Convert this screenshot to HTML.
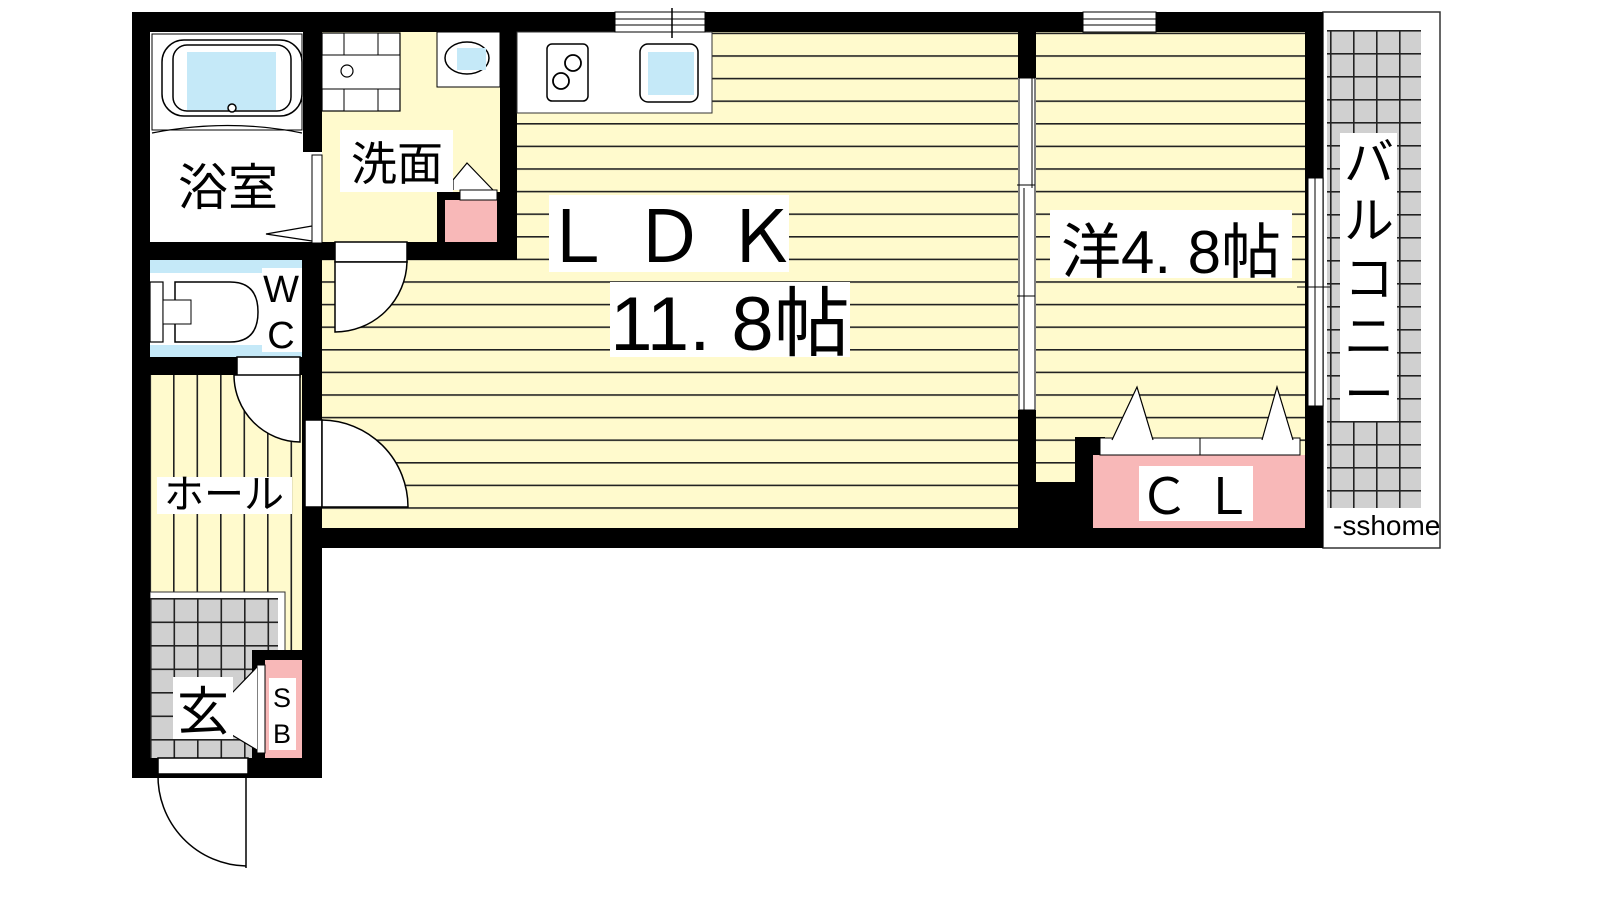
<!DOCTYPE html>
<html><head><meta charset="utf-8"><style>
html,body{margin:0;padding:0;background:#fff;}
svg{display:block;}
text{font-family:"Liberation Sans","Noto Sans CJK JP",sans-serif;fill:#000;}
</style></head><body>
<svg width="1600" height="900" viewBox="0 0 1600 900" xmlns="http://www.w3.org/2000/svg">
<defs>
<pattern id="hl" x="0" y="10" width="20" height="22.6" patternUnits="userSpaceOnUse">
<rect width="20" height="22.6" fill="#fffacd"/><rect y="0" width="20" height="1.6" fill="#222"/>
</pattern>
<pattern id="vl" x="173" y="0" width="23.5" height="20" patternUnits="userSpaceOnUse">
<rect width="23.5" height="20" fill="#fffacd"/><rect x="0" width="1.6" height="20" fill="#222"/>
</pattern>
<pattern id="tile" x="150" y="598" width="23.5" height="23.5" patternUnits="userSpaceOnUse">
<rect width="23.5" height="23.5" fill="#d0d0d0"/><rect width="1.6" height="23.5" fill="#222"/><rect width="23.5" height="1.6" fill="#222"/>
</pattern>
<pattern id="tile2" x="1330" y="30" width="23" height="23" patternUnits="userSpaceOnUse">
<rect width="23" height="23" fill="#d0d0d0"/><rect width="1.6" height="23" fill="#222"/><rect width="23" height="1.6" fill="#222"/>
</pattern>
</defs>

<!-- balcony -->
<rect x="1323" y="12" width="117" height="536" fill="#fff" stroke="#333" stroke-width="1.5"/>
<rect x="1327" y="30" width="94" height="478" fill="url(#tile2)"/>

<!-- floors -->
<rect x="322" y="32" width="696" height="496" fill="url(#hl)"/>
<rect x="1036" y="32" width="269" height="450" fill="url(#hl)"/>
<rect x="322" y="32" width="178" height="210" fill="#fffacd"/>
<rect x="150" y="375" width="152" height="383" fill="url(#vl)"/>
<rect x="150" y="32" width="153" height="210" fill="#fff"/>
<rect x="150" y="260" width="153" height="97" fill="#c5e9f8"/>
<rect x="150" y="273" width="112" height="72" fill="#fff"/>
<rect x="150" y="592" width="135" height="166" fill="#fff" stroke="#333" stroke-width="1"/>
<rect x="150" y="598" width="128" height="160" fill="url(#tile)"/>

<!-- walls -->
<g fill="#000">
<rect x="132" y="12" width="1191" height="20"/>
<rect x="132" y="12" width="18" height="766"/>
<rect x="305" y="528" width="1018" height="20"/>
<rect x="1305" y="12" width="18" height="536"/>
<rect x="302" y="250" width="20" height="528"/>
<rect x="132" y="758" width="190" height="20"/>
<rect x="303" y="12" width="19" height="140"/>
<rect x="132" y="242" width="385" height="18"/>
<rect x="500" y="12" width="17" height="248"/>
<rect x="132" y="357" width="190" height="18"/>
<rect x="1018" y="12" width="18" height="66"/>
<rect x="1018" y="410" width="18" height="130"/>
<rect x="1018" y="482" width="75" height="60"/>
<rect x="1075" y="437" width="30" height="50"/>
<rect x="437" y="192" width="63" height="60"/>
<rect x="252" y="650" width="50" height="110"/>
</g>

<!-- pink storage -->
<rect x="445" y="200" width="52" height="42" fill="#f8b8b8"/>
<rect x="1093" y="455" width="212" height="73" fill="#f8b8b8"/>
<rect x="265" y="660" width="37" height="98" fill="#f8b8b8"/>

<!-- kitchen -->
<rect x="517" y="32" width="195" height="81" fill="#fff" stroke="#333" stroke-width="1"/>
<rect x="547" y="44" width="41" height="57" rx="5" fill="#fff" stroke="#000" stroke-width="1.5"/>
<circle cx="573" cy="63" r="8" fill="none" stroke="#000" stroke-width="1.8"/>
<circle cx="561" cy="81" r="8" fill="none" stroke="#000" stroke-width="1.8"/>
<rect x="640" y="44" width="58" height="58" rx="8" fill="#fff" stroke="#000" stroke-width="1.5"/>
<rect x="648" y="52" width="46" height="43" fill="#c5e9f8"/>
<!-- windows -->
<rect x="615" y="12" width="90" height="20" fill="#fff" stroke="#000" stroke-width="1"/>
<line x1="615" y1="19" x2="705" y2="19" stroke="#000"/><line x1="615" y1="25" x2="705" y2="25" stroke="#000"/>
<line x1="672" y1="8" x2="672" y2="38" stroke="#000" stroke-width="1.5"/>
<rect x="1083" y="12" width="73" height="20" fill="#fff" stroke="#000" stroke-width="1"/>
<line x1="1083" y1="19" x2="1156" y2="19" stroke="#000"/><line x1="1083" y1="25" x2="1156" y2="25" stroke="#000"/>

<!-- bath -->
<rect x="152" y="34" width="150" height="96" fill="#fff" stroke="#000" stroke-width="1"/>
<rect x="162" y="40" width="140" height="76" rx="22" fill="#fff" stroke="#000" stroke-width="1.5"/>
<rect x="173" y="45" width="118" height="66" rx="14" fill="#fff" stroke="#000" stroke-width="1.5"/>
<rect x="187" y="52" width="89" height="58" fill="#c5e9f8"/>
<circle cx="232" cy="108" r="4" fill="#fff" stroke="#000" stroke-width="1.5"/>
<path d="M152 133 Q228 118 302 133" fill="none" stroke="#000" stroke-width="1.2"/>
<rect x="312" y="155" width="10" height="88" fill="#fff" stroke="#000" stroke-width="1"/>
<path d="M312 226 L266 234 L312 241" fill="none" stroke="#000" stroke-width="1.2"/>
<!-- washer -->
<rect x="322" y="33" width="78" height="78" fill="#fff" stroke="#000" stroke-width="1.2"/>
<rect x="344" y="33" width="34" height="78" fill="#fff" stroke="#000" stroke-width="1"/>
<rect x="322" y="55" width="78" height="34" fill="#fff" stroke="#000" stroke-width="1"/>
<rect x="345" y="56" width="32" height="32" fill="#fff"/>
<circle cx="347" cy="71" r="6" fill="#fff" stroke="#000" stroke-width="1.2"/>
<rect x="437" y="32" width="63" height="55" fill="#fff" stroke="#000" stroke-width="1"/>
<ellipse cx="467" cy="58" rx="22" ry="16" fill="#fff" stroke="#000" stroke-width="1.5"/>
<rect x="457" y="48" width="29" height="22" fill="#c5e9f8"/>
<path d="M453 190 L453 180 L467 163 L493 190" fill="#fff" stroke="#000" stroke-width="1.2"/>
<rect x="460" y="190" width="37" height="10" fill="#fff" stroke="#000" stroke-width="1"/>

<!-- WC toilet -->
<rect x="150" y="282" width="13" height="60" fill="#fff" stroke="#000" stroke-width="1.2"/>
<path d="M175 282 L230 282 Q258 282 258 312 Q258 342 230 342 L175 342 Z" fill="#fff" stroke="#000" stroke-width="1.5"/>
<rect x="163" y="300" width="28" height="24" fill="#fff" stroke="#000" stroke-width="1"/>

<!-- doors -->
<g fill="#fff" stroke="#000" stroke-width="1.5">
<rect x="335" y="242" width="72" height="20"/>
<path d="M335 262 L407 262 A72 72 0 0 1 335 332 Z"/>
<rect x="237" y="357" width="63" height="20"/>
<path d="M300 375 L300 442 A67 67 0 0 1 234 375 Z"/>
<rect x="305" y="420" width="17" height="87"/>
<path d="M322 420 A87 87 0 0 1 408 507 L322 507 Z"/>
<rect x="158" y="758" width="90" height="16"/>
<path d="M158 774 A90 90 0 0 0 246 866" fill="none"/>
<line x1="246" y1="774" x2="246" y2="868"/>
</g>
<!-- sliding door LDK/bedroom -->
<rect x="1019" y="78" width="16" height="332" fill="#fff" stroke="#000" stroke-width="1"/>
<line x1="1032" y1="78" x2="1032" y2="188" stroke="#000"/>
<line x1="1024" y1="188" x2="1024" y2="410" stroke="#000"/>
<line x1="1017" y1="185" x2="1035" y2="185" stroke="#000"/><line x1="1017" y1="296" x2="1035" y2="296" stroke="#000"/>
<!-- balcony window -->
<rect x="1308" y="178" width="15" height="228" fill="#fff" stroke="#000" stroke-width="1"/>
<line x1="1315" y1="178" x2="1315" y2="406" stroke="#000"/>
<line x1="1297" y1="287" x2="1330" y2="287" stroke="#000"/>
<!-- closet doors -->
<rect x="1100" y="438" width="200" height="17" fill="#fff" stroke="#000" stroke-width="1"/>
<line x1="1200" y1="438" x2="1200" y2="455" stroke="#000"/>
<path d="M1112 440 L1137 387 L1153 440" fill="#fff" stroke="#000" stroke-width="1.2"/>
<path d="M1293 440 L1277 387 L1262 440" fill="#fff" stroke="#000" stroke-width="1.2"/>
<!-- SB door -->
<rect x="257" y="665" width="8" height="88" fill="#fff" stroke="#000" stroke-width="1"/>
<path d="M257 667 L232 693 L232 735 L257 750" fill="#fff" stroke="#000" stroke-width="1.2"/>

<!-- labels -->
<g fill="#fff">
<rect x="167" y="152" width="122" height="60"/>
<rect x="340" y="130" width="113" height="62"/>
<rect x="549" y="195" width="240" height="77"/>
<rect x="610" y="282" width="240" height="75"/>
<rect x="1050" y="210" width="242" height="68"/>
<rect x="1340" y="133" width="57" height="288"/>
<rect x="1139" y="466" width="114" height="55"/>
<rect x="157" y="477" width="135" height="37"/>
<rect x="173" y="677" width="60" height="62"/>
<rect x="269" y="678" width="27" height="72"/>
<rect x="262" y="268" width="40" height="84"/>
<rect x="1330" y="508" width="108" height="32"/>
</g>
<text x="228" y="205" font-size="50" text-anchor="middle">浴室</text>
<text x="397" y="180" font-size="46" text-anchor="middle">洗面</text>
<text x="669" y="262" font-size="72" text-anchor="middle">Ｌ Ｄ Ｋ</text>
<text x="730" y="350" font-size="76" text-anchor="middle">11. 8帖</text>
<text x="1171" y="273" font-size="60" text-anchor="middle">洋4. 8帖</text>
<g font-size="50" text-anchor="middle">
<text x="1369" y="180">バ</text><text x="1369" y="238">ル</text><text x="1369" y="296">コ</text><text x="1369" y="354">ニ</text><text x="1369" y="412">ー</text>
</g>
<text x="1196" y="514" font-size="50" text-anchor="middle">Ｃ Ｌ</text>
<text x="224" y="508" font-size="40" text-anchor="middle">ホール</text>
<text x="203" y="730" font-size="52" text-anchor="middle">玄</text>
<text x="282" y="707" font-size="27" text-anchor="middle">S</text>
<text x="282" y="743" font-size="27" text-anchor="middle">B</text>
<text x="281" y="302" font-size="38" text-anchor="middle">W</text>
<text x="281" y="348" font-size="38" text-anchor="middle">C</text>
<text x="1333" y="535" font-size="28">-sshome</text>
</svg>
</body></html>
